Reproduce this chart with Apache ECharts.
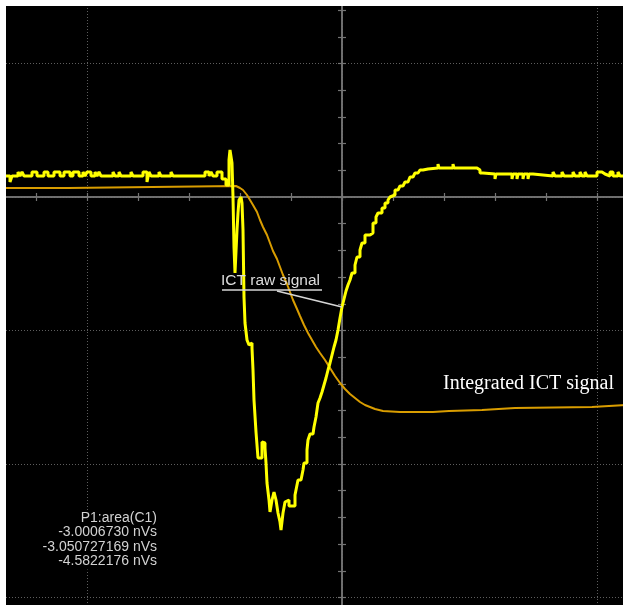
<!DOCTYPE html>
<html>
<head>
<meta charset="utf-8">
<script src="https://cdn.jsdelivr.net/npm/echarts@6/dist/echarts.min.js"></script>
<style>
  html, body { margin: 0; padding: 0; background: #ffffff; }
  #wrap { position: absolute; left: 6px; top: 6px; width: 617px; height: 599px; overflow: hidden; background: #000; }
  #chart { position: absolute; left: -174px; top: -76px; width: 1020px; height: 801px; }
</style>
</head>
<body>
<div id="wrap"><div id="chart"></div></div>
<script>
// Oscilloscope units: time in samples from trigger, amplitude in ADC counts.
// One horizontal division = 255 samples, one vertical division = 133.5 counts.
const divX = 255;
const divY = 133.5;

// ICT raw signal (C1), sampled (step trace)
const rawTime = [
  -340,-332,-330,-324,-322,-320,-318,-310,-305,-298,-294,-288,-282,-278,-272,-269,-263,-259,-257,-255,
  -251,-247,-245,-243,-241,-229,-227,-223,-221,-211,-209,-199,-195,-193,-191,-183,-181,-171,-169,-137,
  -133,-131,-129,-125,-120,-116,-113,-112,-110,-109,-108,-107,-105,-104,-103,-101,-100,-99,-98,-97,
  -95,-93,-91,-90,-89,-88,-86,-85,-84,-80,-79,-77,-76,-75,-73,-72,-70,-68,-66,-64,
  -62,-61,-59,-57,-55,-53,-47,-45,-44,-41,-39,-38,-35,-34,-32,-29,-28,-26,-24,-22,
  -20,-18,-16,-14,-12,-10,-8,-6,-4,-2,0,2,4,6,8,10,13,15,18,20,
  23,28,31,34,36,40,43,46,48,50,53,56,58,61,63,66,68,71,73,76,
  78,81,86,96,97,111,112,135,138,141,153,154,170,171,175,176,181,182,186,187,
  191,211,213,220,222,231,233,238,240,243,245,255,260,263,268,271,276,278,284
];
const rawValue = [
  21,15,21,25,21,25,21,25,21,25,21,25,21,25,21,25,21,25,21,25,
  21,25,21,25,21,25,21,25,21,25,21,25,15,25,21,25,21,25,21,25,
  21,25,21,25,18,12,37,47,34,0,-50,-76,-33,-16,-3,0,-6,-33,-100,-126,
  -143,-148,-146,-151,-173,-203,-235,-248,-261,-245,-246,-251,-266,-286,-303,-315,-303,-295,-303,-316,
  -325,-333,-316,-305,-303,-309,-298,-288,-283,-281,-273,-266,-253,-243,-237,-236,-230,-220,-206,-201,
  -195,-188,-181,-173,-166,-158,-150,-143,-133,-121,-110,-102,-94,-88,-83,-76,-68,-60,-53,-46,
  -38,-36,-26,-20,-16,-11,-6,-3,0,2,7,9,11,13,15,17,20,22,24,25,
  27,28,29,33,29,33,29,27,24,23,18,23,18,23,18,23,18,23,18,23,
  21,25,21,25,21,25,21,25,21,25,21,25,23,21,25,21,25,21,21
];

// Integrated ICT signal
const intTime = [
  -340,-274,-273,-106,-102,-99,-95,-92,-89,-85,-82,-79,-75,-72,-69,-65,-62,-59,-55,-52,
  -49,-45,-42,-38,-34,-30,-26,-22,-17,-12,-7,-2,3,8,13,18,23,28,33,41,
  58,91,92,107,108,140,141,173,174,250,251,284
];
const intValue = [
  9,9,11,11,9,7,2,-3,-8,-15,-23,-30,-38,-46,-54,-62,-70,-78,-87,-95,
  -103,-112,-119,-128,-136,-143,-150,-156,-163,-171,-179,-186,-192,-197,-201,-205,-208,-210,-212,-214,
  -215,-215,-214,-214,-213,-213,-211,-211,-210,-210,-208,-208
];

// Annotation leader lines (data coordinates)
const underlineFrom = [-120, -93], underlineTo = [-20, -93];
const leaderFrom = [-65, -94], leaderTo = [0, -110];

// Annotation texts and their anchors
const rawLabel = 'ICT raw signal';
const rawLabelAt = [-121, -84];
const intLabel = 'Integrated ICT signal';
const intLabelAt = [101, -187];
const measLines = ['P1:area(C1)', '-3.0006730 nVs', '-3.050727169 nVs', '-4.5822176 nVs'];
const measRightX = -182;
const measY = [-321.5, -335.5, -350, -364.5];

const rawData = rawTime.map((t, i) => [t, rawValue[i]]);
const intData = intTime.map((t, i) => [t, intValue[i]]);

const axisGray = '#747474';
const gridGray = '#5e5e5e';

function xAxisDef(pos, main) {
  return {
    type: 'value', min: -2 * divX, max: 2 * divX, interval: divX, position: pos,
    axisLine: { show: true, onZero: true, onZeroAxisIndex: 0, lineStyle: { color: axisGray, width: 1.5 } },
    axisTick: { show: true, inside: false, length: 4, lineStyle: { color: axisGray, width: 1.2 } },
    minorTick: { show: true, splitNumber: 5, length: 4, lineStyle: { color: axisGray, width: 1.2 } },
    axisLabel: { show: false },
    splitLine: { show: main, lineStyle: { color: gridGray, width: 1, type: [1, 2] } },
    minorSplitLine: { show: false }
  };
}
function yAxisDef(pos, main) {
  return {
    type: 'value', min: -4 * divY, max: 2 * divY, interval: divY, position: pos,
    axisLine: { show: true, onZero: true, onZeroAxisIndex: 0, lineStyle: { color: axisGray, width: 1.5 } },
    axisTick: { show: true, inside: false, length: 4, lineStyle: { color: axisGray, width: 1.2 } },
    minorTick: { show: true, splitNumber: 5, length: 4, lineStyle: { color: axisGray, width: 1.2 } },
    axisLabel: { show: false },
    splitLine: { show: main, lineStyle: { color: gridGray, width: 1, type: [1, 2] } },
    minorSplitLine: { show: false }
  };
}

const chart = echarts.init(document.getElementById('chart'), null, { renderer: 'canvas' });
chart.setOption({
  backgroundColor: '#000000',
  animation: false,
  grid: { left: 0, right: 0, top: 0, bottom: 0, containLabel: false },
  xAxis: [xAxisDef('bottom', true), xAxisDef('top', false)],
  yAxis: [yAxisDef('left', true), yAxisDef('right', false)],
  series: [
    {
      name: 'Integrated ICT signal', type: 'line', data: intData, showSymbol: false, symbol: 'none',
      lineStyle: { color: '#d99d00', width: 2 }, z: 2, silent: true
    },
    {
      name: 'ICT raw signal', type: 'line', step: 'end', data: rawData, showSymbol: false, symbol: 'none',
      lineStyle: { color: '#ffff00', width: 3 }, z: 3, silent: true,
      markLine: {
        silent: true, symbol: 'none', animation: false,
        label: { show: false },
        lineStyle: { color: '#d6d6d6', width: 1.5, type: 'solid' },
        data: [
          [{ coord: underlineFrom }, { coord: underlineTo }],
          [{ coord: leaderFrom }, { coord: leaderTo }]
        ]
      }
    }
  ]
});

const px = p => chart.convertToPixel({ xAxisIndex: 0, yAxisIndex: 0 }, p);
const graphics = [];
const rp = px(rawLabelAt);
graphics.push({ type: 'text', x: rp[0], y: rp[1], z: 10,
  style: { text: rawLabel, fill: '#dcdcdc', font: '15.5px "Liberation Sans", Arial, sans-serif', textAlign: 'left', textVerticalAlign: 'middle' } });
const ip = px(intLabelAt);
graphics.push({ type: 'text', x: ip[0], y: ip[1], z: 10,
  style: { text: intLabel, fill: '#ffffff', font: '20px "Liberation Serif", "Times New Roman", serif', textAlign: 'left', textVerticalAlign: 'middle' } });
measLines.forEach((t, i) => {
  const p = px([measRightX, measY[i]]);
  graphics.push({ type: 'text', x: p[0], y: p[1], z: 10,
    style: { text: t, fill: '#d2d2d2', font: '14px "Liberation Sans", Arial, sans-serif', textAlign: 'right', textVerticalAlign: 'middle',
      backgroundColor: '#000000', padding: [1, 3, 1, 3] } });
});
chart.setOption({ graphic: graphics });
</script>
</body>
</html>
